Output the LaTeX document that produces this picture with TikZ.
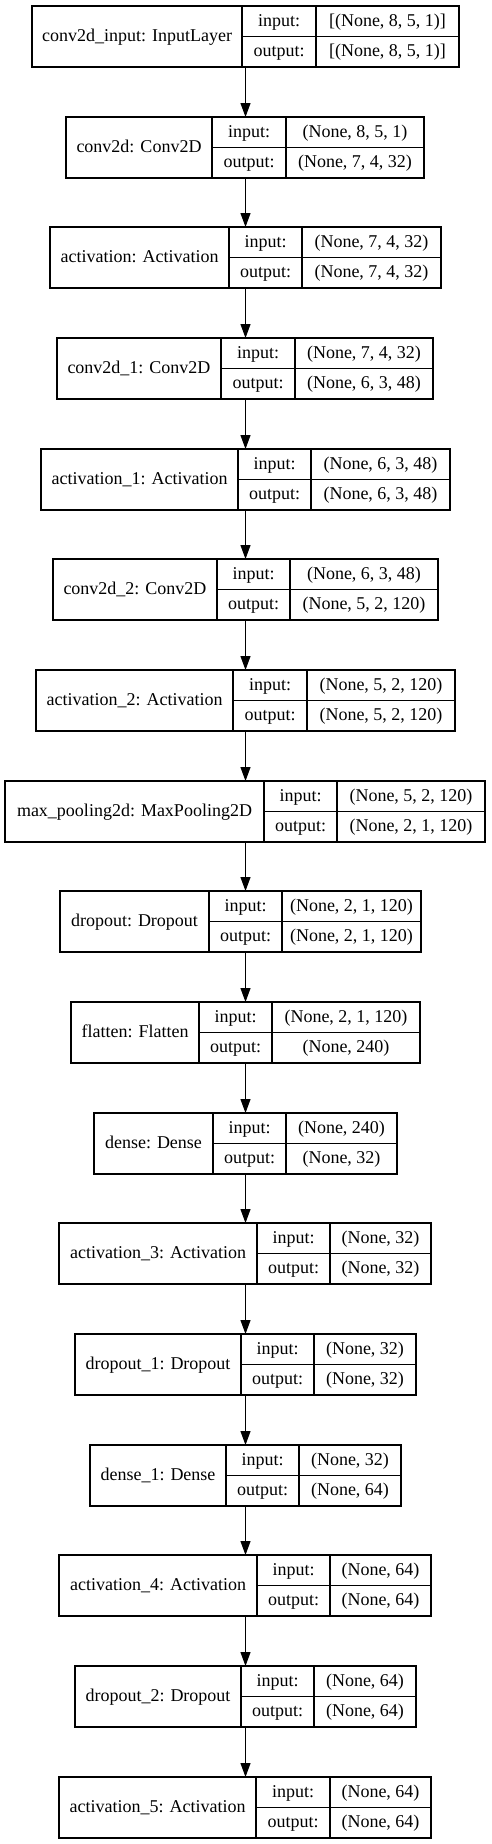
\documentclass[tikz,border=0pt]{standalone}
\usepackage{fontspec}
\setmainfont{Liberation Serif}
\usetikzlibrary{arrows.meta}
\tikzset{
  lbox/.style={draw=black, line width=1.1pt, inner sep=0pt, outer sep=0pt, minimum height=61pt},
  sep/.style={draw=black, line width=1.1pt},
  txt/.style={font=\fontsize{18}{20}\selectfont, inner sep=0pt, anchor=base},
  flow/.style={draw=black, line width=1.1pt, -{Triangle[length=14pt,width=10pt]}}
}
% #1 name, #2 top, #3 left, #4 divider1, #5 divider2, #6 right, #7 label, #8 in, #9 out
\newcommand\kerasLayer[9]{%
  \node[lbox, minimum width={(#6-#3)*1pt}, anchor=north west] (#1) at (#3,-#2) {};
  \draw[sep] (#4,-#2) -- (#4,{-#2-61});
  \draw[sep] (#5,-#2) -- (#5,{-#2-61});
  \draw[sep] (#4,{-#2-30.5}) -- (#6,{-#2-30.5});
  \node[txt] (#1-name) at ({(#3+#4)/2},{-#2-30.5-5}) {#7};
  \node[txt] (#1-inl) at ({(#4+#5)/2},{-#2-15.25-5}) {input:};
  \node[txt] (#1-outl) at ({(#4+#5)/2},{-#2-45.75-5}) {output:};
  \node[txt] (#1-inv) at ({(#5+#6)/2},{-#2-15.25-5}) {#8};
  \node[txt] (#1-outv) at ({(#5+#6)/2},{-#2-45.75-5}) {#9};
}
\begin{document}
\begin{tikzpicture}[x=1pt,y=1pt]
\useasboundingbox (0,0) rectangle (491,-1844);
\coordinate (axis) at (245.5,0);
\kerasLayer{L1}{6}{32}{242}{316}{459}{conv2d\_input: InputLayer}{[(None, 8, 5, 1)]}{[(None, 8, 5, 1)]}
\kerasLayer{L2}{117}{66}{212}{286}{424}{conv2d: Conv2D}{(None, 8, 5, 1)}{(None, 7, 4, 32)}
\kerasLayer{L3}{227}{50}{229}{302}{441}{activation: Activation}{(None, 7, 4, 32)}{(None, 7, 4, 32)}
\kerasLayer{L4}{338}{57}{221}{295}{433}{conv2d\_1: Conv2D}{(None, 7, 4, 32)}{(None, 6, 3, 48)}
\kerasLayer{L5}{449}{41}{238}{311}{450}{activation\_1: Activation}{(None, 6, 3, 48)}{(None, 6, 3, 48)}
\kerasLayer{L6}{559}{53}{217}{290}{438}{conv2d\_2: Conv2D}{(None, 6, 3, 48)}{(None, 5, 2, 120)}
\kerasLayer{L7}{670}{36}{233}{307}{455}{activation\_2: Activation}{(None, 5, 2, 120)}{(None, 5, 2, 120)}
\kerasLayer{L8}{781}{5}{264}{337}{485}{max\_pooling2d: MaxPooling2D}{(None, 5, 2, 120)}{(None, 2, 1, 120)}
\kerasLayer{L9}{891}{60}{209}{282}{421}{dropout: Dropout}{(None, 2, 1, 120)}{(None, 2, 1, 120)}
\kerasLayer{L10}{1002}{71}{199}{272}{420}{flatten: Flatten}{(None, 2, 1, 120)}{(None, 240)}
\kerasLayer{L11}{1113}{94}{213}{286}{397}{dense: Dense}{(None, 240)}{(None, 32)}
\kerasLayer{L12}{1223}{59}{257}{330}{431}{activation\_3: Activation}{(None, 32)}{(None, 32)}
\kerasLayer{L13}{1334}{75}{241}{314}{416}{dropout\_1: Dropout}{(None, 32)}{(None, 32)}
\kerasLayer{L14}{1445}{90}{226}{299}{401}{dense\_1: Dense}{(None, 32)}{(None, 64)}
\kerasLayer{L15}{1555}{59}{257}{330}{431}{activation\_4: Activation}{(None, 64)}{(None, 64)}
\kerasLayer{L16}{1666}{75}{241}{314}{416}{dropout\_2: Dropout}{(None, 64)}{(None, 64)}
\kerasLayer{L17}{1777}{59}{256}{330}{431}{activation\_5: Activation}{(None, 64)}{(None, 64)}
\foreach \a/\b in {L1/L2,L2/L3,L3/L4,L4/L5,L5/L6,L6/L7,L7/L8,L8/L9,L9/L10,L10/L11,L11/L12,L12/L13,L13/L14,L14/L15,L15/L16,L16/L17}
  \draw[flow] (\a.south -| axis) -- (\b.north -| axis);
\end{tikzpicture}
\end{document}
